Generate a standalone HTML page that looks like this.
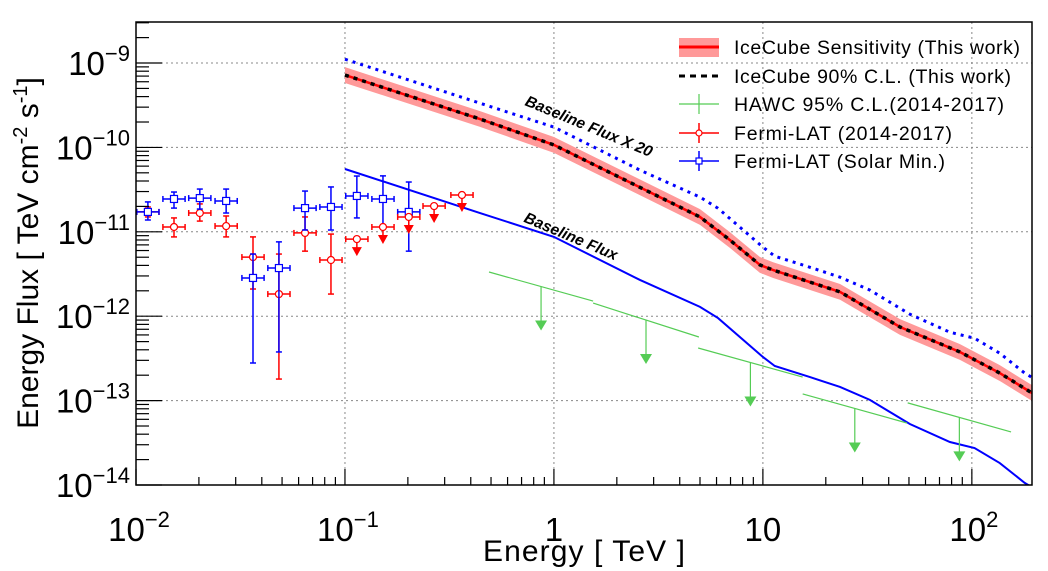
<!DOCTYPE html>
<html><head><meta charset="utf-8"><style>
html,body{margin:0;padding:0;background:#fff;}
svg{display:block;font-family:"Liberation Sans",sans-serif;}
</style></head><body>
<svg id="chart" width="1048" height="571" viewBox="0 0 1048 571" xmlns="http://www.w3.org/2000/svg">
<g id="grid"></g>
<g id="series"></g>
<g id="axes"></g>
<g id="legend">
  <rect x="679" y="38" width="40" height="19" fill="#f99"/>
  <line x1="679" y1="47" x2="719" y2="47" stroke="#f00" stroke-width="3"/>
  <text x="734" y="54" font-size="19.5" textLength="286">IceCube Sensitivity (This work)</text>
  <line x1="679" y1="76" x2="719" y2="76" stroke="#000" stroke-width="3" stroke-dasharray="6 5"/>
  <text x="734" y="83" font-size="19.5" textLength="277">IceCube 90% C.L. (This work)</text>
  <line x1="679" y1="104" x2="719" y2="104" stroke="#5c5" stroke-width="1.2"/>
  <line x1="699" y1="94" x2="699" y2="114" stroke="#5c5" stroke-width="1.2"/>
  <text x="734" y="111" font-size="19.5" textLength="270">HAWC 95% C.L.(2014-2017)</text>
  <line x1="679" y1="133" x2="719" y2="133" stroke="#f00" stroke-width="1.5"/>
  <line x1="699" y1="123" x2="699" y2="143" stroke="#f00" stroke-width="1.5"/>
  <circle cx="699" cy="133" r="3" fill="#fff" stroke="#f00" stroke-width="1.2"/>
  <text x="734" y="140" font-size="19.5" textLength="218">Fermi-LAT (2014-2017)</text>
  <line x1="679" y1="161" x2="719" y2="161" stroke="#00f" stroke-width="1.5"/>
  <line x1="699" y1="151" x2="699" y2="171" stroke="#00f" stroke-width="1.5"/>
  <rect x="696" y="158" width="6" height="6" fill="#fff" stroke="#00f" stroke-width="1.2"/>
  <text x="734" y="168" font-size="19.5" textLength="211">Fermi-LAT (Solar Min.)</text>
</g>
<text transform="translate(587,131) rotate(22.5)" text-anchor="middle" font-size="15.5" font-weight="bold" font-style="italic">Baseline Flux X 20</text>
<text transform="translate(569,241) rotate(23)" text-anchor="middle" font-size="15.5" font-weight="bold" font-style="italic">Baseline Flux</text>
<text x="584" y="561" text-anchor="middle" font-size="30" textLength="202">Energy [ TeV ]</text>
<text transform="translate(38,253) rotate(-90)" text-anchor="middle" font-size="30">Energy Flux [ TeV cm<tspan dy="-11" font-size="20">-2</tspan><tspan dy="11"> s</tspan><tspan dy="-11" font-size="20">-1</tspan><tspan dy="11">]</tspan></text>
</svg>
<script>
// ---- data ----
const baseE = [0.1,0.443,1,2.58,5.0,6.1,10,11.4,16.8,23.4,32.5,50.5,78.5,103,136,179,211];
const baseF = [5.55e-11,1.67e-11,8.7e-12,2.69e-12,1.29e-12,9.5e-13,3.29e-13,2.57e-13,1.9e-13,1.45e-13,1.02e-13,5.28e-14,3.23e-14,2.74e-14,1.82e-14,1.06e-14,8.3e-15];
const baseScale = 20;
const sensE = [0.1,0.443,1,5.0,6.95,9.68,11.2,23.4,45.3,87.7,136,194];
const sensF = [7.2e-10,2.17e-10,1.07e-10,1.5e-11,8.0e-12,4.05e-12,3.52e-12,1.94e-12,7.45e-13,3.77e-13,2.12e-13,1.23e-13];
const sensBandFactor = 1.24;
const blueE = [0.0114,0.0152,0.0202,0.0270,0.0363,0.0483,0.0644,0.0857,0.114,0.152,0.202];
const blueF = [1.72e-11,2.45e-11,2.51e-11,2.32e-11,2.84e-12,3.72e-12,1.91e-11,1.97e-11,2.66e-11,2.45e-11,1.72e-11];
const blueLo = [1.38e-11,1.91e-11,1.86e-11,1.67e-11,2.79e-13,3.77e-13,1.05e-11,1.05e-11,1.46e-11,1.20e-11,5.9e-12];
const blueHi = [2.26e-11,2.96e-11,3.21e-11,3.21e-11,5.45e-12,7.6e-12,3.04e-11,3.40e-11,4.58e-11,4.6e-11,3.89e-11];
const redE = [0.0114,0.0152,0.0202,0.0270,0.0363,0.0483,0.0644,0.0857];
const redF = [1.72e-11,1.14e-11,1.67e-11,1.17e-11,5.02e-12,1.83e-12,9.7e-12,4.63e-12];
const redLo = [1.5e-11,8.7e-12,1.34e-11,8.7e-12,2.10e-12,1.80e-13,5.9e-12,1.83e-12];
const redHi = [1.97e-11,1.46e-11,2.14e-11,1.54e-11,8.7e-12,5.45e-12,1.50e-11,9.4e-12];
const ulE = [0.114,0.152,0.202,0.267,0.363];
const ulF = [8.2e-12,1.14e-11,1.5e-11,2.02e-11,2.73e-11];
const binFactor = 1.13;
const hawcE1 = [0.489,1.54,4.9,15.5,49.3];
const hawcE2 = [1.54,4.94,15.5,48.9,154];
const hawcF1 = [3.34e-12,1.43e-12,4.2e-13,1.2e-13,9.4e-14];
const hawcF2 = [1.51e-12,5.67e-13,1.9e-13,5.43e-14,4.25e-14];
const xTicks = [-2,-1,0,1,2];
const xTickLabels = ["10","10","1","10","10"];
const xTickExp = ["\u22122","\u22121","","","2"];
const yTicks = [-14,-13,-12,-11,-10,-9];
const yTickExp = ["\u221214","\u221213","\u221212","\u221211","\u221210","\u22129"];

// ---- axes functions ----
const L=136,R=1032,T=22,B=485;
const xmin=-2, xmax=Math.log10(194);
const ymin=-14, ymax=-8.514;
const X = e => L + (Math.log10(e)-xmin)/(xmax-xmin)*(R-L);
const Y = f => B - (Math.log10(f)-ymin)/(ymax-ymin)*(B-T);
const NS="http://www.w3.org/2000/svg";
function mk(tag, parent, attrs){const el=document.createElementNS(NS,tag);for(const k in attrs)el.setAttribute(k,attrs[k]);parent.appendChild(el);return el;}
const grid=document.getElementById('grid'), ser=document.getElementById('series'), ax=document.getElementById('axes');

for(let d=-1; d<=2; d++){ const x=X(Math.pow(10,d)); const g=mk('line',grid,{x1:x,y1:T,x2:x,y2:B,stroke:'#888','stroke-width':1,'stroke-dasharray':'2 3'});
  }
for(let d=-13; d<=-9; d++){ const y=Y(Math.pow(10,d)); const g=mk('line',grid,{x1:L,y1:y,x2:R,y2:y,stroke:'#888','stroke-width':1,'stroke-dasharray':'2 3'});
  }

const defs=mk('defs',ser,{}); const cp=mk('clipPath',defs,{id:'clip'}); mk('rect',cp,{x:L,y:T,width:R-L,height:B-T});
const clipped=mk('g',ser,{'clip-path':'url(#clip)'});
 

let up=sensE.map((e,i)=>X(e)+','+Y(sensF[i]*sensBandFactor)), dn=sensE.map((e,i)=>X(e)+','+Y(sensF[i]/sensBandFactor)).reverse();
const band=mk('polygon',clipped,{points:up.concat(dn).join(' '),fill:'#f99'});
 
const spts=sensE.map((e,i)=>X(e)+','+Y(sensF[i])).join(' ');
const sl=mk('polyline',clipped,{points:spts,fill:'none',stroke:'#f00','stroke-width':2.5});
 
const cl=mk('polyline',clipped,{points:spts,fill:'none',stroke:'#000','stroke-width':3.5,'stroke-dasharray':'4 5'});
 

const bl=mk('polyline',clipped,{points:baseE.map((e,i)=>X(e)+','+Y(baseF[i])).join(' '),fill:'none',stroke:'#00f','stroke-width':2});
 
const bl20=mk('polyline',clipped,{points:baseE.map((e,i)=>X(e)+','+Y(baseF[i]*baseScale)).join(' '),fill:'none',stroke:'#00f','stroke-width':3,'stroke-dasharray':'3 5'});
 

hawcE1.forEach((e1,i)=>{
  const g=mk('g',clipped,{stroke:'#5c5','stroke-width':1.2,fill:'#5c5'});
   
  mk('line',g,{x1:X(e1),y1:Y(hawcF1[i]),x2:X(hawcE2[i]),y2:Y(hawcF2[i])});
  const em=Math.sqrt(e1*hawcE2[i]);
  const s=Math.log(hawcF2[i]/hawcF1[i])/Math.log(hawcE2[i]/e1);
  const fm=hawcF1[i]*Math.pow(em/e1,s);
  const x=X(em), y=Y(fm);
  mk('line',g,{x1:x,y1:y,x2:x,y2:y+36});
  mk('polygon',g,{points:`${x-6},${y+34} ${x+6},${y+34} ${x},${y+44}`,stroke:'none'});
});

function pts(E,F,Lo,Hi,col,marker,name){
  E.forEach((e,i)=>{
    const g=mk('g',clipped,{stroke:col,'stroke-width':1.5,fill:'none'});
     
    const x=X(e),y=Y(F[i]),x1=X(e/binFactor),x2=X(e*binFactor),y1=Y(Hi[i]),y2=Y(Lo[i]);
    mk('line',g,{x1:x1,y1:y,x2:x2,y2:y});
    mk('line',g,{x1:x1,y1:y-3,x2:x1,y2:y+3}); mk('line',g,{x1:x2,y1:y-3,x2:x2,y2:y+3});
    mk('line',g,{x1:x,y1:y1,x2:x,y2:y2});
    mk('line',g,{x1:x-3,y1:y1,x2:x+3,y2:y1}); mk('line',g,{x1:x-3,y1:y2,x2:x+3,y2:y2});
    if(marker==='sq') mk('rect',g,{x:x-3.5,y:y-3.5,width:7,height:7,fill:'#fff','stroke-width':1.2});
    else mk('circle',g,{cx:x,cy:y,r:3.5,fill:'#fff','stroke-width':1.2});
  });
}
pts(redE,redF,redLo,redHi,'#f00','c','fermi-point');
pts(blueE,blueF,blueLo,blueHi,'#00f','sq','solar-min-point');
ulE.forEach((e,i)=>{
  const g=mk('g',clipped,{stroke:'#f00','stroke-width':1.5,fill:'#f00'});
   
  const x=X(e),y=Y(ulF[i]),x1=X(e/binFactor),x2=X(e*binFactor);
  mk('line',g,{x1:x1,y1:y,x2:x2,y2:y});
  mk('line',g,{x1:x1,y1:y-3,x2:x1,y2:y+3}); mk('line',g,{x1:x2,y1:y-3,x2:x2,y2:y+3});
  mk('line',g,{x1:x,y1:y,x2:x,y2:y+9});
  mk('polygon',g,{points:`${x-5},${y+8} ${x+5},${y+8} ${x},${y+17}`,stroke:'none'});
  mk('circle',g,{cx:x,cy:y,r:3.5,fill:'#fff','stroke-width':1.2});
});

const fr=mk('rect',ax,{x:L,y:T,width:R-L,height:B-T,fill:'none',stroke:'#000','stroke-width':1.5});
 
for(let d=-2; d<=2; d++){ for(let m=1;m<10;m++){ const e=m*Math.pow(10,d); if(e>194) break; const x=X(e); const len=m===1?16:8;
  const t=mk('line',ax,{x1:x,y1:B,x2:x,y2:B-len,stroke:'#000','stroke-width':1.2});
    } }
xTicks.forEach((d,i)=>{
  const x=X(Math.pow(10,d));
  const t=mk('text',ax,{x:x,y:541,'font-size':33,'text-anchor':'middle'});
   
  t.textContent=xTickLabels[i];
  if(xTickExp[i]){ const s=mk('tspan',t,{dy:-14,'font-size':22}); s.textContent=xTickExp[i]; t.setAttribute('x',x-(xTickExp[i].length>1?-1:-2)+ (xTickExp[i].length>1?2:0)); }
});
for(let d=-14; d<=-9; d++){ for(let m=1;m<10;m++){ const f=m*Math.pow(10,d); if(Math.log10(f)>ymax) break; const y=Y(f); const len=m===1?26:13;
  const t=mk('line',ax,{x1:L,y1:y,x2:L+len,y2:y,stroke:'#000','stroke-width':1.2});
    } }
yTicks.forEach((d,i)=>{
  const y=Y(Math.pow(10,d));
  const t=mk('text',ax,{x:130,y:y+12,'font-size':33,'text-anchor':'end'});
   
  t.textContent='10';
  const s=mk('tspan',t,{dy:-14,'font-size':22}); s.textContent=yTickExp[i];
});
</script>
</body></html>
